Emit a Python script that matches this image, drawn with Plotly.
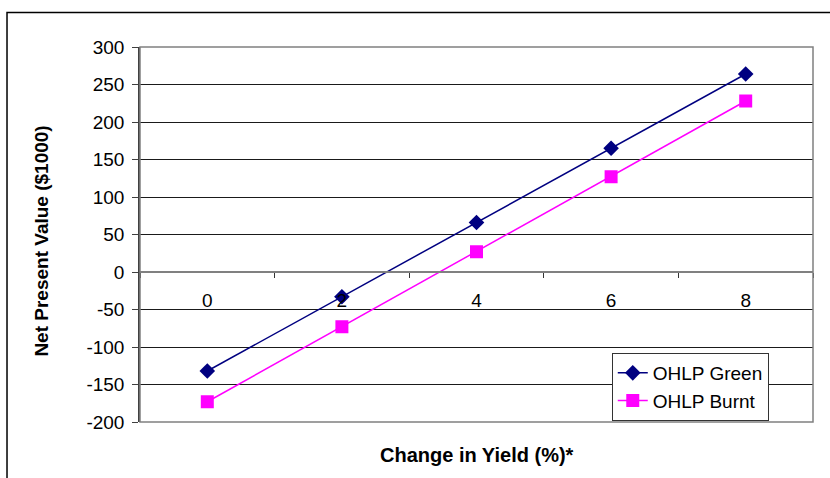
import plotly.graph_objects as go

# Yield change scenarios (%) and net present value ($1000)
yield_change = ["0", "2", "4", "6", "8"]
npv_green = [-132, -33, 66, 165, 264]
npv_burnt = [-173, -73, 27, 127, 228]

# Value axis ticks, labelled with plain hyphen minus signs
npv_ticks = [-200, -150, -100, -50, 0, 50, 100, 150, 200, 250, 300]
npv_tick_text = ["-200", "-150", "-100", "-50", "0", "50", "100", "150", "200", "250", "300"]

FONT = "Arial, Liberation Sans, sans-serif"

fig = go.Figure()
fig.add_trace(go.Scatter(
    x=yield_change, y=npv_green, name="OHLP Green", mode="lines+markers",
    line=dict(color="#000080", width=1.5),
    marker=dict(symbol="diamond", size=12, color="#000080"),
))
fig.add_trace(go.Scatter(
    x=yield_change, y=npv_burnt, name="OHLP Burnt", mode="lines+markers",
    line=dict(color="#FF00FF", width=1.5),
    marker=dict(symbol="square", size=13, color="#FF00FF"),
))

fig.update_layout(
    width=830, height=478,
    margin=dict(l=140, r=17, t=47, b=56),
    paper_bgcolor="white", plot_bgcolor="white",
    font=dict(family=FONT, size=19, color="black"),
    showlegend=True,
    legend=dict(
        x=0.701, y=0.184, xanchor="left", yanchor="top",
        bgcolor="white", bordercolor="#333333", borderwidth=1,
        font=dict(size=19, family=FONT),
    ),
    xaxis=dict(
        type="category", range=[-0.5, 4.5],
        anchor="free", position=0.4,
        showline=True, linecolor="#808080", linewidth=1.5,
        ticks="outside", ticklen=5, tickcolor="#333333", tickson="boundaries",
        showgrid=False, zeroline=False,
        ticklabelstandoff=11,
        tickfont=dict(size=19, family=FONT),
    ),
    yaxis=dict(
        range=[-200, 300], tickvals=npv_ticks, ticktext=npv_tick_text,
        showline=True, linecolor="#404040", linewidth=1.5,
        ticks="outside", ticklen=6, tickcolor="#404040",
        showgrid=True, gridcolor="#1a1a1a", gridwidth=1,
        zeroline=False,
        ticklabelstandoff=4,
        tickfont=dict(size=19, family=FONT),
    ),
    shapes=[
        # plot area frame
        dict(type="rect", xref="paper", yref="paper", x0=0, y0=0, x1=1, y1=1,
             line=dict(color="#808080", width=1.5), layer="above"),
        # outer chart border (top and left edges)
        dict(type="path", xref="paper", yref="paper",
             path="M -0.1976,-0.2 L -0.1976,1.092 L 1.05,1.092",
             line=dict(color="black", width=1.5)),
    ],
    annotations=[
        dict(text="<b>Net Present Value ($1000)</b>", xref="paper", yref="paper",
             x=-0.146, y=0.483, textangle=-90, showarrow=False,
             xanchor="center", yanchor="middle",
             font=dict(size=19, family=FONT)),
        dict(text="<b>Change in Yield (%)*</b>", xref="paper", yref="paper",
             x=0.5, y=-0.088, showarrow=False,
             xanchor="center", yanchor="middle",
             font=dict(size=20, family=FONT)),
    ],
)

fig.write_html("out.html")
